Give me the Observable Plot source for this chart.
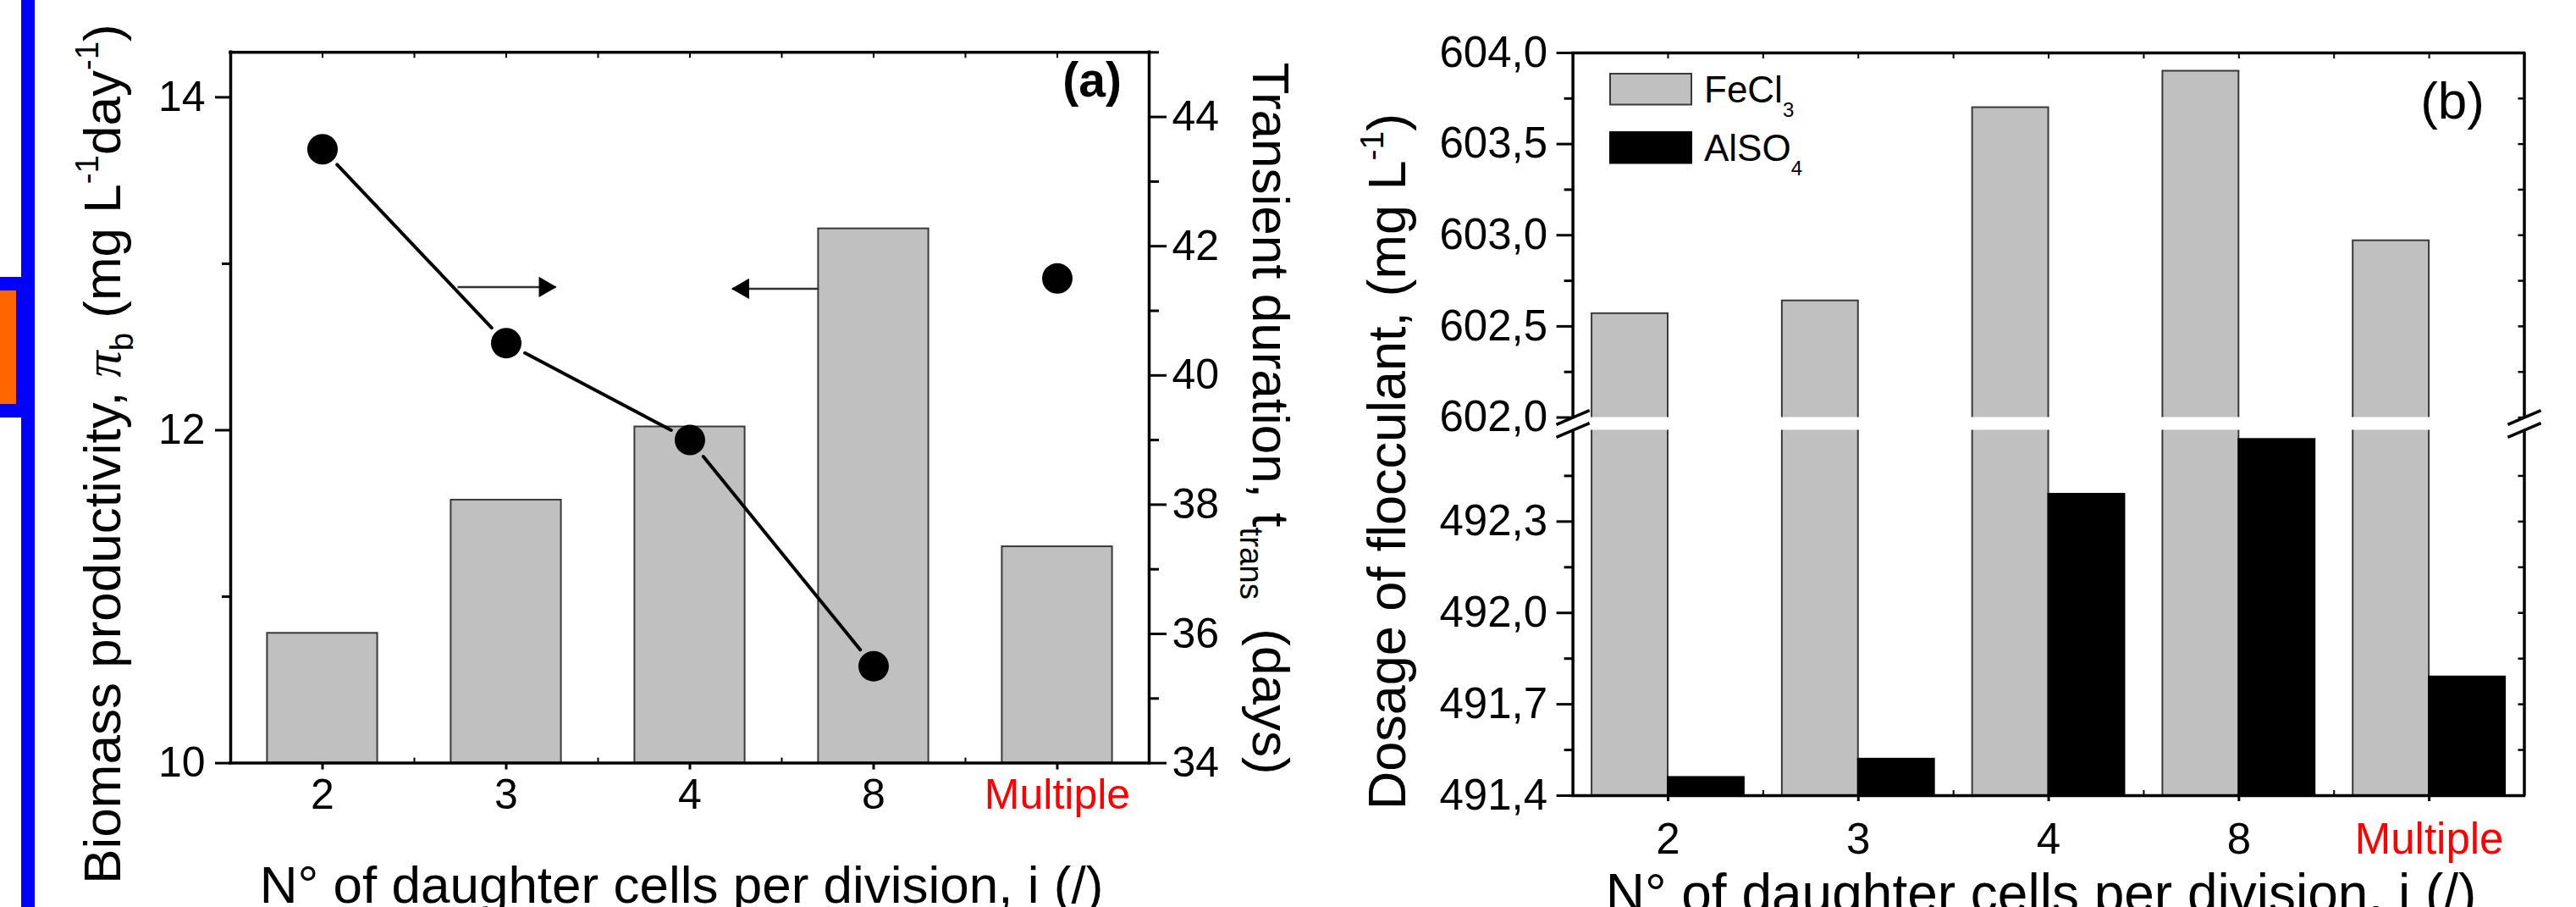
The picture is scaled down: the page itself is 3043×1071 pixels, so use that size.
<!DOCTYPE html>
<html>
<head>
<meta charset="utf-8">
<script src="https://cdn.jsdelivr.net/npm/d3@7"></script>
<script src="https://cdn.jsdelivr.net/npm/@observablehq/plot@0.6"></script>
<style>
  html, body { margin: 0; padding: 0; background: #fff; }
  #root { position: relative; width: 3043px; height: 1071px; overflow: hidden; background: #fff; }
  #pa, #pb { position: absolute; top: 0; height: 1071px; }
  #pa { left: 0; width: 1560px; }
  #pb { left: 1560px; width: 1483px; }
  .deco { position: absolute; }
</style>
</head>
<body>
<div id="root">
  <div id="pa"></div>
  <div id="pb"></div>
  <div class="deco" style="left:25px;top:0;width:16px;height:1071px;background:#0000ff"></div>
  <div class="deco" style="left:0;top:327px;width:41px;height:166px;background:#0000ff"></div>
  <div class="deco" style="left:0;top:343px;width:19px;height:134px;background:#ff6600"></div>
</div>
<script>
// ---------------- data ----------------
const categories = ["2", "3", "4", "8", "Multiple"];
const productivity = [10.78, 11.58, 12.02, 13.21, 11.30];      // mg L-1 day-1 (bars, left axis)
const transientDays = [43.5, 40.5, 39.0, 35.5, 41.5];          // days (dots, right axis)
const fecl3 = [602.57, 602.64, 603.70, 603.90, 602.97];        // mg L-1
const also4 = [491.46, 491.52, 492.39, 492.57, 491.79];        // mg L-1
const leftTicks = [10, 12, 14];
const leftMinor = [11, 13];
const rightTicks = [34, 36, 38, 40, 42, 44];
const rightMinor = [35, 37, 39, 41, 43, 45];
const upperTicks = [602.0, 602.5, 603.0, 603.5, 604.0];
const upperMinor = [602.25, 602.75, 603.25, 603.75];
const lowerTicks = [491.4, 491.7, 492.0, 492.3];
const lowerMinor = [491.55, 491.85, 492.15, 492.45];
const arrowNotes = [{x1: 0.735, x2: 1.27, y: 12.86, dir: 1}, {x1: 2.70, x2: 2.23, y: 12.85, dir: -1}];

// ---------------- helpers ----------------
const FONT = '"Liberation Sans", Arial, Helvetica, sans-serif';
const idx = categories.map((_, i) => i);
const halfSteps = d3.range(0, 11).map(k => k / 2 - 0.5);
const midSteps = [0.5, 1.5, 2.5, 3.5];

function rich(svg, {x, y, rotate = 0, size, anchor = "middle", weight = "normal", fill = "#000"}, parts) {
  const t = d3.select(svg).append("text")
    .attr("transform", `translate(${x},${y}) rotate(${rotate})`)
    .attr("text-anchor", anchor)
    .attr("font-size", size)
    .attr("font-family", FONT)
    .attr("font-weight", weight)
    .attr("fill", fill)
    .style("white-space", "pre");
  let shift = 0;
  for (const [s, k] of parts) {
    const target = k === "sup" ? -0.42 * size : k === "sub" ? 0.24 * size : 0;
    const sp = t.append("tspan").attr("dy", target - shift).text(s);
    shift = target;
    if (k === "sup" || k === "sub") sp.attr("font-size", 0.62 * size);
    if (k === "it") sp.attr("font-style", "italic").attr("font-family", '"Liberation Serif", "DejaVu Serif", serif');
  }
  return t;
}

const baseStyle = {fontFamily: FONT, fontSize: "50px", color: "#000", background: "transparent", overflow: "visible", maxWidth: "none"};

// ---------------- panel (a) ----------------
const LDOM = [10, 14.27], RDOM = [34, 45];
const toLeft = v => LDOM[0] + (v - RDOM[0]) * (LDOM[1] - LDOM[0]) / (RDOM[1] - RDOM[0]);
const A = {width: 1560, height: 1071, mt: 61.3, mb: 170.4, ml: 272, mr: 203};
const pyA = (A.height - A.mt - A.mb) / (LDOM[1] - LDOM[0]);
const pxA = (A.width - A.ml - A.mr) / 5;

const barsA = idx.map(i => ({i, v: productivity[i]}));
const dotsA = idx.map(i => ({i, y: toLeft(transientDays[i])}));
const segsA = d3.range(3).map(k => ({x1: k, y1: dotsA[k].y, x2: k + 1, y2: dotsA[k + 1].y}));
const rMap = new Map(rightTicks.map(v => [toLeft(v), String(v)]));

const svgA = Plot.plot({
  width: A.width, height: A.height,
  marginTop: A.mt, marginBottom: A.mb, marginLeft: A.ml, marginRight: A.mr,
  style: baseStyle,
  x: {type: "linear", domain: [-0.5, 4.5]},
  y: {type: "linear", domain: LDOM},
  marks: [
    Plot.rect(barsA, {x1: d => d.i - 0.3, x2: d => d.i + 0.3, y1: LDOM[0], y2: "v", fill: "#c0c0c0", stroke: "#3a3a3a", strokeWidth: 2}),
    Plot.arrow(segsA, {x1: "x1", y1: "y1", x2: "x2", y2: "y2", stroke: "#000", strokeWidth: 4, headLength: 0, insetStart: 25, insetEnd: 25}),
    Plot.dot(dotsA, {x: "i", y: "y", r: 18, fill: "#000", stroke: "none"}),
    Plot.link(arrowNotes, {x1: "x1", x2: "x2", y1: "y", y2: "y", stroke: "#333", strokeWidth: 2.5}),
    Plot.dot(arrowNotes, {x: d => d.x2 - d.dir * 13 / pxA, y: "y", symbol: "triangle", r: 9, rotate: d => d.dir * 90, fill: "#000", stroke: "none"}),
    Plot.ruleX([-0.5, 4.5], {y1: LDOM[0], y2: LDOM[1], strokeWidth: 3.5, strokeLinecap: "square"}),
    Plot.ruleY([LDOM[0], LDOM[1]], {x1: -0.5, x2: 4.5, strokeWidth: 3.5, strokeLinecap: "square"}),
    Plot.ruleX(halfSteps, {y1: LDOM[1], y2: LDOM[1] - 7 / pyA, strokeWidth: 2}),
    Plot.ruleX(midSteps, {y1: LDOM[0], y2: LDOM[0] + 6 / pyA, strokeWidth: 2}),
    Plot.axisY(leftTicks, {anchor: "left", tickSize: 18, tickPadding: 12, strokeWidth: 3, tickFormat: d => String(d)}),
    Plot.axisY(leftMinor, {anchor: "left", tickSize: 10, strokeWidth: 3, tickFormat: () => ""}),
    Plot.axisY(rightTicks.map(toLeft), {anchor: "right", tickSize: 20, tickPadding: 7, strokeWidth: 3, tickFormat: d => rMap.get(d)}),
    Plot.axisY(rightMinor.map(toLeft), {anchor: "right", tickSize: 11, strokeWidth: 3, tickFormat: () => ""}),
    Plot.axisX(idx, {anchor: "bottom", tickSize: 8, tickPadding: 10, strokeWidth: 3, tickFormat: i => i < 4 ? categories[i] : ""}),
    Plot.text([4], {x: d => d, text: d => categories[d], frameAnchor: "bottom", lineAnchor: "top", dy: 18, fill: "#ff0000", fontSize: 50})
  ]
});
document.getElementById("pa").appendChild(svgA);

rich(svgA, {x: 142, y: 536, rotate: -90, size: 62},
  [["Biomass productivity, "], ["π", "it"], ["b", "sub"], [" (mg L"], ["-1", "sup"], ["day"], ["-1", "sup"], [")"]]);
rich(svgA, {x: 1480, y: 494, rotate: 90, size: 62},
  [["Transient duration, t"], ["trans", "sub"], ["  (days)"]]);
rich(svgA, {x: 1325, y: 114, size: 57, anchor: "end", weight: "bold"}, [["(a)"]]);
rich(svgA, {x: 805, y: 1066, size: 62}, [["N° of daughter cells per division, i (/)"]]);

// ---------------- panel (b) ----------------
const SEG = {lo: [491.4, 492.6], hi: [602, 604], loPx: 431.5, gapPx: 15, hiPx: 430.5};
const tY = v => v <= SEG.lo[1]
  ? (v - SEG.lo[0]) / (SEG.lo[1] - SEG.lo[0]) * SEG.loPx
  : SEG.loPx + SEG.gapPx + (v - SEG.hi[0]) / (SEG.hi[1] - SEG.hi[0]) * SEG.hiPx;
const YTOP = tY(SEG.hi[1]);
const B = {width: 1483, height: 1071, mt: 62, mb: 132, ml: 297.6, mr: 61.5};
const pyB = (B.height - B.mt - B.mb) / YTOP;
const pxB = (B.width - B.ml - B.mr) / 5;
const fmtB = v => v.toFixed(1).replace(".", ",");
const majorB = [...lowerTicks, ...upperTicks];
const minorB = [...lowerMinor, ...upperMinor];
const bMap = new Map(majorB.map(v => [tY(v), fmtB(v)]));
const feBars = idx.map(i => ({x1: i - 0.4, x2: i, v: tY(fecl3[i])}));
const alBars = idx.map(i => ({x1: i, x2: i + 0.4, v: tY(also4[i])}));
const yBreakLo = tY(SEG.lo[1]), yBreakHi = tY(SEG.hi[0]);
const slashes = [-0.5, 4.5].flatMap(x => [yBreakLo, yBreakHi].map(y => ({
  x1: x - 19.6 / pxB, x2: x + 19.6 / pxB, y1: y - 8.4 / pyB, y2: y + 8.4 / pyB
})));
const axisSegs = [-0.5, 4.5].flatMap(x => [{x, y1: 0, y2: yBreakLo}, {x, y1: yBreakHi, y2: YTOP}]);

const svgB = Plot.plot({
  width: B.width, height: B.height,
  marginTop: B.mt, marginBottom: B.mb, marginLeft: B.ml, marginRight: B.mr,
  style: {...baseStyle, fontSize: "51px"},
  x: {type: "linear", domain: [-0.5, 4.5]},
  y: {type: "linear", domain: [0, YTOP]},
  marks: [
    Plot.rect(feBars, {x1: "x1", x2: "x2", y1: 0, y2: "v", fill: "#c0c0c0", stroke: "#3a3a3a", strokeWidth: 2}),
    Plot.rect(alBars, {x1: "x1", x2: "x2", y1: 0, y2: "v", fill: "#000", stroke: "#000", strokeWidth: 2}),
    Plot.rect([0], {x1: -0.5, x2: 4.5, y1: yBreakLo, y2: yBreakHi, fill: "#fff"}),
    Plot.ruleX(axisSegs, {x: "x", y1: "y1", y2: "y2", strokeWidth: 3.5}),
    Plot.ruleY([0, YTOP], {x1: -0.5, x2: 4.5, strokeWidth: 3.5, strokeLinecap: "square"}),
    Plot.link(slashes, {x1: "x1", x2: "x2", y1: "y1", y2: "y2", strokeWidth: 3.5}),
    Plot.ruleX(halfSteps, {y1: YTOP, y2: YTOP - 7 / pyB, strokeWidth: 2}),
    Plot.ruleX(midSteps, {y1: 0, y2: 6 / pyB, strokeWidth: 2}),
    Plot.ruleY([...majorB, ...minorB].map(tY), {x1: 4.5 - 7 / pxB, x2: 4.5, strokeWidth: 2.5}),
    Plot.axisY(majorB.map(tY), {anchor: "left", tickSize: 19, tickPadding: 11, strokeWidth: 3, tickFormat: d => bMap.get(d)}),
    Plot.axisY(minorB.map(tY), {anchor: "left", tickSize: 10, strokeWidth: 3, tickFormat: () => ""}),
    Plot.axisX(idx, {anchor: "bottom", tickSize: 7, tickPadding: 25, strokeWidth: 3, tickFormat: i => i < 4 ? categories[i] : ""}),
    Plot.text([4], {x: d => d, text: d => categories[d], frameAnchor: "bottom", lineAnchor: "top", dy: 32, fill: "#ff0000", fontSize: 51})
  ]
});
document.getElementById("pb").appendChild(svgB);

rich(svgB, {x: 100, y: 545, rotate: -90, size: 63},
  [["Dosage of flocculant, (mg L"], ["-1", "sup"], [")"]]);
rich(svgB, {x: 851, y: 1077, size: 64}, [["N° of daughter cells per division, i (/)"]]);
rich(svgB, {x: 1375, y: 140, size: 62, anchor: "end"}, [["(b)"]]);

// legend
const legend = [{name: "FeCl", sub: "3", fill: "#c0c0c0", stroke: "#3a3a3a"}, {name: "AlSO", sub: "4", fill: "#000", stroke: "#000"}];
const lg = d3.select(svgB).append("g").attr("text-anchor", "start");
legend.forEach((d, k) => {
  const top = 87 + k * 69;
  lg.append("rect").attr("x", 342).attr("y", top).attr("width", 96).attr("height", 36.5)
    .attr("fill", d.fill).attr("stroke", d.stroke).attr("stroke-width", 2);
  const t = lg.append("text").attr("x", 453).attr("y", top + 34).attr("text-anchor", "start")
    .attr("font-family", FONT).attr("font-size", 44).attr("fill", "#000");
  t.append("tspan").text(d.name);
  t.append("tspan").attr("dy", 17).attr("font-size", 24).text(d.sub);
});
</script>
</body>
</html>
